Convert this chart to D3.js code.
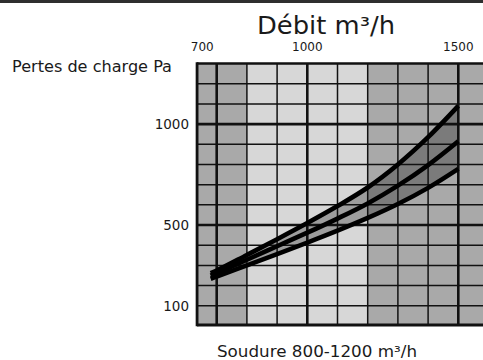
<!DOCTYPE html>
<html>
<head>
<meta charset="utf-8">
<script src="https://cdn.jsdelivr.net/npm/d3@7"></script>
<style>
  html, body { margin: 0; padding: 0; background: #fff; }
  svg { display: block; }
  text { font-family: "DejaVu Sans", sans-serif; fill: #1a1a1a; }
</style>
</head>
<body>
<svg id="chart" width="483" height="360"></svg>
<script>
// ---- data ----
const flow   = [680, 700, 800, 900, 1000, 1100, 1200, 1300, 1400, 1500];
const upper  = [262, 275, 352, 430, 510, 594, 686, 800, 935, 1090];
const middle = [249, 262, 328, 395, 462, 532, 607, 695, 797, 915];
const lower  = [234, 245, 300, 356, 413, 472, 535, 604, 684, 778];

const xTickLabels = [700, 1000, 1500];
const yTickLabels = [100, 500, 1000];
const xGridValues = [700, 800, 900, 1000, 1100, 1200, 1300, 1400, 1500, 1600];
const yGridValues = [100, 200, 300, 400, 500, 600, 700, 800, 900, 1000, 1100, 1200];
const xThick = [700, 1000, 1500];
const yThick = [500, 1000];
const zoneStart = [635, 800, 1200];
const zoneEnd   = [800, 1200, 1600];
const zoneKind  = ["dark", "light", "dark"];

const title = "Débit m³/h";
const yTitle = "Pertes de charge Pa";
const caption = "Soudure 800-1200 m³/h";

// ---- layout ----
const svg = d3.select("#chart");
const W = 483, H = 360;
const x = d3.scaleLinear().domain([700, 1500]).range([216.7, 458.3]);
const y = d3.scaleLinear().domain([0, 1300]).range([326, 63.5]);
const xMin = 635;

// top band
svg.append("rect").attr("x", 0).attr("y", 0).attr("width", W).attr("height", 3).attr("fill", "#2e2e2e");

// zones
const zoneColor = { dark: "#a9a9a9", light: "#d7d7d7" };
svg.append("g").selectAll("rect").data(zoneStart).join("rect")
  .attr("x", (d) => x(d))
  .attr("width", (d, i) => x(zoneEnd[i]) - x(d))
  .attr("y", y(1300))
  .attr("height", y(0) - y(1300))
  .attr("fill", (d, i) => zoneColor[zoneKind[i]]);

// band between upper and lower
const pts = flow.map((f, i) => ({ f, u: upper[i], m: middle[i], l: lower[i] }));
const curve = d3.curveCatmullRom.alpha(0.5);
const area = d3.area().x(d => x(d.f)).y0(d => y(d.l)).y1(d => y(d.u)).curve(curve);
svg.append("path").datum(pts).attr("d", area).attr("fill", "#000").attr("fill-opacity", 0.27);

// grid
const g = svg.append("g");
g.selectAll("line.v").data(xGridValues).join("line")
  .attr("x1", d => x(d)).attr("x2", d => x(d))
  .attr("y1", y(1300)).attr("y2", y(0))
  .attr("stroke", "#111")
  .attr("stroke-width", d => xThick.includes(d) ? 2.6 : 1.5);
g.selectAll("line.h").data(yGridValues).join("line")
  .attr("x1", x(xMin)).attr("x2", W)
  .attr("y1", d => y(d)).attr("y2", d => y(d))
  .attr("stroke", "#111")
  .attr("stroke-width", d => yThick.includes(d) ? 2.6 : 1.5);
// borders
g.append("line").attr("x1", x(xMin)).attr("x2", x(xMin)).attr("y1", y(1300) - 1.3).attr("y2", y(0) + 0.3)
  .attr("stroke", "#111").attr("stroke-width", 2.8);
g.append("line").attr("x1", x(xMin)).attr("x2", W).attr("y1", y(1300)).attr("y2", y(1300))
  .attr("stroke", "#111").attr("stroke-width", 2.6);
g.append("line").attr("x1", x(xMin)).attr("x2", W).attr("y1", y(0) - 1).attr("y2", y(0) - 1)
  .attr("stroke", "#111").attr("stroke-width", 2.8);

// curves
["u", "m", "l"].forEach(k => {
  const lg = d3.line().x(d => x(d.f)).y(d => y(d[k])).curve(curve);
  svg.append("path").attr("d", lg(pts))
    .attr("fill", "none").attr("stroke", "#000").attr("stroke-width", 4.6)
    .attr("stroke-linecap", "butt");
});

// x tick labels
svg.append("g").selectAll("text").data(xTickLabels).join("text")
  .attr("x", (d, i) => i === 0 ? x(d) - 3 : x(d))
  .attr("y", 51)
  .attr("text-anchor", (d, i) => i === 0 ? "end" : "middle")
  .attr("font-size", 12)
  .text(d => d);

// y tick labels
svg.append("g").selectAll("text").data(yTickLabels).join("text")
  .attr("x", 189)
  .attr("y", d => y(d))
  .attr("dy", "0.36em")
  .attr("text-anchor", "end")
  .attr("font-size", 13.5)
  .text(d => d);

// titles
svg.append("text").attr("x", 257).attr("y", 34).attr("font-size", 24)
  .attr("textLength", 138).attr("lengthAdjust", "spacingAndGlyphs").text(title);
svg.append("text").attr("x", 12).attr("y", 71.5).attr("font-size", 15.5)
  .attr("textLength", 160).attr("lengthAdjust", "spacingAndGlyphs").text(yTitle);
svg.append("text").attr("x", 217).attr("y", 357).attr("font-size", 16)
  .attr("textLength", 200).attr("lengthAdjust", "spacingAndGlyphs").text(caption);
</script>
</body>
</html>
